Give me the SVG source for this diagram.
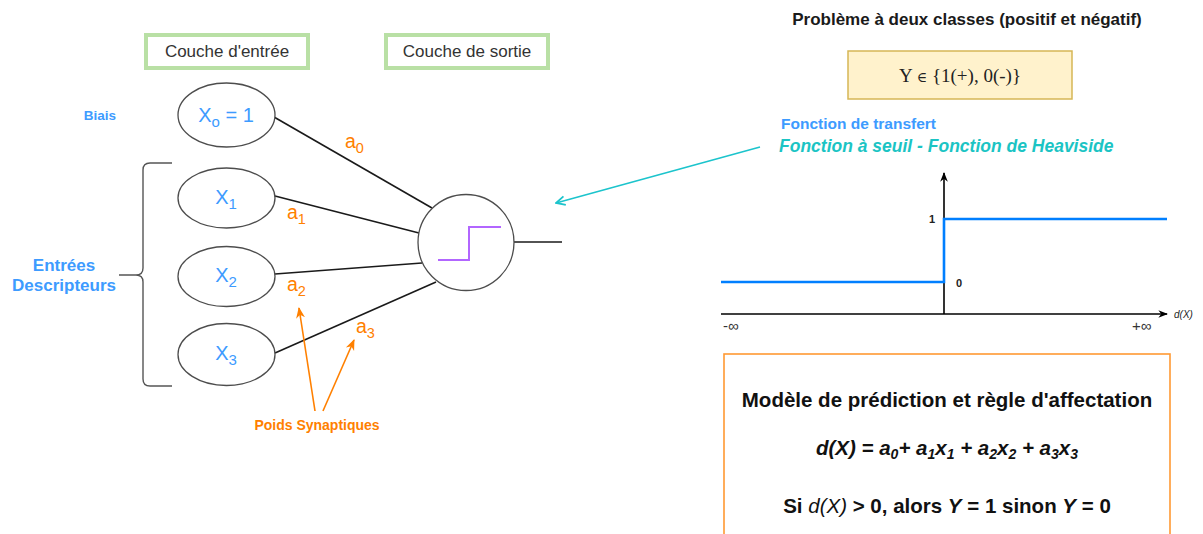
<svg xmlns="http://www.w3.org/2000/svg" width="1203" height="534" viewBox="0 0 1203 534">
  <style>
    text { font-family: "Liberation Sans", Arial, sans-serif; }
    text.serif { font-family: "Liberation Serif", "DejaVu Serif", serif; }
    .layer { fill: #ffffff; stroke: #b9e0a5; stroke-width: 4; }
    .layer-label { font-size: 17px; fill: #333333; text-anchor: middle; }
    .input { fill: #ffffff; stroke: #4d4d4d; stroke-width: 1.3; }
    .input-label { font-size: 20px; fill: #3d9bff; text-anchor: middle; }
    .edge { stroke: #1a1a1a; stroke-width: 1.6; fill: none; }
    .weight { font-size: 19.5px; fill: #ff8000; }
    .blue-bold { font-weight: bold; fill: #3d9bff; }
    .orange-arrow { stroke: #ff8000; stroke-width: 1.6; fill: none; }
    .axis { stroke: #000000; stroke-width: 1.6; fill: none; }
    .step { stroke: #007fff; stroke-width: 2.6; fill: none; }
    .tick { font-size: 11px; font-weight: bold; fill: #222222; }
    .rule { font-size: 20.5px; font-weight: bold; fill: #111111; text-anchor: middle; }
  </style>
  <defs>
    <marker id="orange-head" viewBox="0 0 10 10" refX="9" refY="5" markerWidth="7" markerHeight="7" orient="auto">
      <path d="M0,1 L10,5 L0,9 L3,5 Z" fill="#ff8000"/>
    </marker>
    <marker id="cyan-head" viewBox="0 0 10 10" refX="9" refY="5" markerWidth="7" markerHeight="7" orient="auto">
      <path d="M1,1 L9,5 L1,9" fill="none" stroke="#1cc4cc" stroke-width="1.6"/>
    </marker>
    <marker id="axis-head" viewBox="0 0 10 10" refX="9" refY="5" markerWidth="6" markerHeight="6" orient="auto">
      <path d="M0,1 L10,5 L0,9 L3,5 Z" fill="#000000"/>
    </marker>
  </defs>

  <rect width="1203" height="534" fill="#ffffff"/>

  <!-- layer headers -->
  <g id="layer-input">
    <rect class="layer" x="146" y="35" width="162" height="33"/>
    <text class="layer-label" x="227" y="57">Couche d'entrée</text>
  </g>
  <g id="layer-output">
    <rect class="layer" x="386" y="35" width="162" height="33"/>
    <text class="layer-label" x="467" y="57">Couche de sortie</text>
  </g>

  <!-- side labels -->
  <g id="bias-label">
    <text class="blue-bold" x="100" y="120" font-size="13.5" text-anchor="middle">Biais</text>
  </g>
  <g id="inputs-label">
    <text class="blue-bold" x="64" y="271" font-size="17" text-anchor="middle">Entrées</text>
    <text class="blue-bold" x="64" y="291" font-size="17" text-anchor="middle">Descripteurs</text>
    <path d="M172,163 L150,163 Q143,163 143,170 L143,268 Q143,275 136,275 L119,275 M136,275 Q143,275 143,282 L143,379 Q143,386 150,386 L172,386" fill="none" stroke="#555555" stroke-width="1.4"/>
  </g>

  <!-- connectors -->
  <g id="connectors">
    <line class="edge" x1="274" y1="117" x2="432" y2="208"/>
    <line class="edge" x1="275" y1="196" x2="419" y2="233"/>
    <line class="edge" x1="275" y1="274" x2="422" y2="263"/>
    <line class="edge" x1="275" y1="353" x2="436" y2="282"/>
    <line class="edge" x1="514" y1="242" x2="562" y2="242"/>
    <line class="orange-arrow" x1="315" y1="411" x2="299" y2="308" marker-end="url(#orange-head)"/>
    <line class="orange-arrow" x1="323" y1="411" x2="354" y2="340" marker-end="url(#orange-head)"/>
    <line x1="760" y1="147" x2="556" y2="203" stroke="#1cc4cc" stroke-width="1.6" marker-end="url(#cyan-head)"/>
  </g>

  <!-- weights -->
  <g id="weights">
    <text class="weight" x="345" y="148">a<tspan font-size="14.5" dy="5">0</tspan></text>
    <text class="weight" x="287" y="219">a<tspan font-size="14.5" dy="5">1</tspan></text>
    <text class="weight" x="287" y="291">a<tspan font-size="14.5" dy="5">2</tspan></text>
    <text class="weight" x="356" y="333">a<tspan font-size="14.5" dy="5">3</tspan></text>
    <text x="317" y="430" font-size="14" font-weight="bold" fill="#ff8000" text-anchor="middle">Poids Synaptiques</text>
  </g>

  <!-- input nodes -->
  <g id="node-x0">
    <ellipse class="input" cx="226.5" cy="115" rx="48.5" ry="32"/>
    <text class="input-label" x="226" y="122">X<tspan font-size="15" dy="5">o</tspan><tspan dy="-5"> = 1</tspan></text>
  </g>
  <g id="node-x1">
    <ellipse class="input" cx="226.5" cy="198" rx="48.5" ry="30"/>
    <text class="input-label" x="226" y="204">X<tspan font-size="15" dy="5">1</tspan></text>
  </g>
  <g id="node-x2">
    <ellipse class="input" cx="226.5" cy="276.5" rx="48.5" ry="30"/>
    <text class="input-label" x="226" y="282">X<tspan font-size="15" dy="5">2</tspan></text>
  </g>
  <g id="node-x3">
    <ellipse class="input" cx="226.5" cy="354.5" rx="48.5" ry="31"/>
    <text class="input-label" x="226" y="360">X<tspan font-size="15" dy="5">3</tspan></text>
  </g>

  <!-- output neuron -->
  <g id="neuron">
    <circle cx="466" cy="242.5" r="48" fill="#ffffff" stroke="#4d4d4d" stroke-width="1.3"/>
    <path d="M438,260 L469,260 L469,227 L501,227" fill="none" stroke="#b266ff" stroke-width="2"/>
  </g>

  <!-- problem statement -->
  <g id="problem">
    <text x="967" y="25" font-size="17" font-weight="bold" fill="#1a1a1a" text-anchor="middle">Problème à deux classes (positif et négatif)</text>
  </g>
  <g id="classes">
    <rect x="848" y="51" width="224" height="48" fill="#fff2cc" stroke="#d6b656" stroke-width="1.5"/>
    <text class="serif" x="960" y="82" font-size="19" fill="#222222" text-anchor="middle">Y <tspan font-size="14">∈</tspan> {1(+), 0(-)}</text>
  </g>

  <!-- transfer function -->
  <g id="transfer-title">
    <text class="blue-bold" x="781" y="129" font-size="15.5">Fonction de transfert</text>
    <text x="779" y="152" font-size="17.5" font-weight="bold" font-style="italic" fill="#1bc4c4">Fonction à seuil - Fonction de Heaviside</text>
  </g>
  <g id="heaviside-plot">
    <line class="axis" x1="944" y1="314" x2="944" y2="173" marker-end="url(#axis-head)"/>
    <line class="axis" x1="721" y1="314" x2="1167" y2="314" marker-end="url(#axis-head)"/>
    <path class="step" d="M721,282 L944,282 L944,219 L1167,219"/>
    <text class="tick" x="929" y="223">1</text>
    <text class="tick" x="956" y="287">0</text>
    <text x="1174" y="318" font-size="10" font-style="italic" fill="#222222">d(X)</text>
    <text x="723" y="331" font-size="15" fill="#333333">-∞</text>
    <text x="1132" y="331" font-size="15" fill="#333333">+∞</text>
  </g>

  <!-- decision rule -->
  <g id="decision-rule">
    <rect x="724" y="354" width="446" height="200" fill="#ffffff" stroke="#ff9933" stroke-width="1.6"/>
    <text class="rule" x="947" y="407">Modèle de prédiction et règle d'affectation</text>
    <text class="rule" x="947" y="455" font-style="italic">d(X) = a<tspan font-size="14" dy="4">0</tspan><tspan dy="-4">+ a</tspan><tspan font-size="14" dy="4">1</tspan><tspan dy="-4">x</tspan><tspan font-size="14" dy="4">1</tspan><tspan dy="-4"> + a</tspan><tspan font-size="14" dy="4">2</tspan><tspan dy="-4">x</tspan><tspan font-size="14" dy="4">2</tspan><tspan dy="-4"> + a</tspan><tspan font-size="14" dy="4">3</tspan><tspan dy="-4">x</tspan><tspan font-size="14" dy="4">3</tspan></text>
    <text class="rule" x="947" y="513">Si <tspan font-style="italic" font-weight="normal">d(X)</tspan> &gt; 0, alors <tspan font-style="italic">Y</tspan> = 1 sinon <tspan font-style="italic">Y</tspan> = 0</text>
  </g>
</svg>
